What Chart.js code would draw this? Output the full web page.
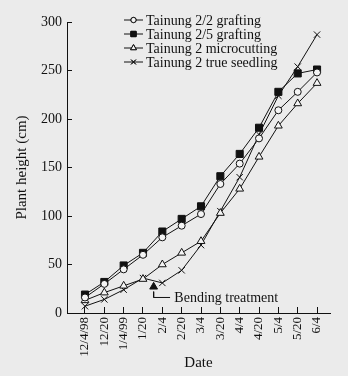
<!DOCTYPE html>
<html>
<head>
<meta charset="utf-8">
<script src="https://cdn.jsdelivr.net/npm/chart.js@4/dist/chart.umd.min.js"></script>
<style>
  html, body { margin: 0; padding: 0; background: #ebebeb; }
  #wrap { width: 348px; height: 376px; position: relative; }
</style>
</head>
<body>
<div id="wrap"><canvas id="c"></canvas></div>
<script>
(function () {
  'use strict';

  // ── Data ──
  var DATES = ['12/4/98', '12/20', '1/4/99', '1/20', '2/4', '2/20', '3/4',
               '3/20', '4/4', '4/20', '5/4', '5/20', '6/4'];
  var GRAFT_22   = [16, 30, 45, 60, 78, 90, 102, 133, 154, 180, 209, 228, 248];
  var GRAFT_25   = [19, 32, 49, 62, 84, 97, 110, 141, 164, 191, 228, 247, 251];
  var MICRO      = [13, 21, 28, 35, 50, 62, 74, 103, 128, 161, 193, 216, 237];
  var SEEDLING   = [7, 14, 24, 36, 31, 44, 70, 105, 140, 184, 224, 254, 287];
  var Y_TICKS    = [0, 50, 100, 150, 200, 250, 300];

  // bending treatment marker + its leader line (data coords)
  var BEND_POINT = [{ x: 3.55, y: 27 }];
  var BEND_LEADER = [{ x: 3.55, y: 22 }, { x: 3.55, y: 16 }, { x: 4.4, y: 16 }];
  var BEND_LABEL = { text: 'Bending treatment', x: 4.62, y: 16 };

  var SERIF = '"Liberation Serif", "DejaVu Serif", serif';
  var INK = '#111';

  function toXY(arr) {
    var out = [];
    for (var i = 0; i < arr.length; i++) out.push({ x: i, y: arr[i] });
    return out;
  }

  function series(label, values, style, radius, fill) {
    return {
      label: label,
      data: toXY(values),
      borderColor: INK,
      borderWidth: 1,
      pointStyle: style,
      pointRadius: radius,
      pointBorderWidth: 1,
      pointBorderColor: INK,
      pointBackgroundColor: fill,
      tension: 0,
      fill: false,
      _legend: true
    };
  }

  var datasets = [
    series('Tainung 2/2 grafting', GRAFT_22, 'circle', 3.5, '#f4f4f4'),
    series('Tainung 2/5 grafting', GRAFT_25, 'rect', 5, INK),
    series('Tainung 2 microcutting', MICRO, 'triangle', 4.5, '#f4f4f4'),
    series('Tainung 2 true seedling', SEEDLING, 'crossRot', 4.5, INK),
    {
      label: 'bend',
      data: BEND_POINT,
      showLine: false,
      pointStyle: 'triangle',
      pointRadius: 4.5,
      pointBorderColor: INK,
      pointBackgroundColor: INK,
      pointBorderWidth: 1
    },
    {
      label: 'leader',
      data: BEND_LEADER,
      borderColor: INK,
      borderWidth: 1,
      pointRadius: 0,
      tension: 0,
      fill: false
    }
  ];

  // ── Custom legend: short line + marker, like the print ──
  var legendPlugin = {
    id: 'printLegend',
    afterDraw: function (chart) {
      var ctx = chart.ctx;
      var x0 = 124, x1 = 143, y = 20, step = 14;
      ctx.save();
      ctx.font = '14px ' + SERIF;
      ctx.textBaseline = 'middle';
      ctx.textAlign = 'left';
      var row = 0;
      chart.data.datasets.forEach(function (ds) {
        if (!ds._legend) return;
        var yy = y + row * step;
        ctx.strokeStyle = INK;
        ctx.lineWidth = 1;
        ctx.beginPath();
        ctx.moveTo(x0, yy);
        ctx.lineTo(x1, yy);
        ctx.stroke();
        Chart.helpers.drawPoint(ctx, {
          pointStyle: ds.pointStyle,
          radius: ds.pointRadius * 0.75,
          rotation: 0,
          borderWidth: 1
        }, (x0 + x1) / 2, yy);
        ctx.fillStyle = ds.pointBackgroundColor;
        ctx.strokeStyle = INK;
        ctx.fill();
        ctx.stroke();
        ctx.fillStyle = INK;
        ctx.fillText(ds.label, x1 + 3, yy + 1);
        row++;
      });
      ctx.restore();
    }
  };

  // ── Annotation text for the bending treatment ──
  var bendPlugin = {
    id: 'bendLabel',
    afterDatasetsDraw: function (chart) {
      var xs = chart.scales.x, ys = chart.scales.y;
      var ctx = chart.ctx;
      ctx.save();
      ctx.font = '14px ' + SERIF;
      ctx.fillStyle = INK;
      ctx.textAlign = 'left';
      ctx.textBaseline = 'middle';
      ctx.fillText(BEND_LABEL.text, xs.getPixelForValue(BEND_LABEL.x), ys.getPixelForValue(BEND_LABEL.y) + 1);
      ctx.restore();
    }
  };

  new Chart(document.getElementById('c'), {
    type: 'line',
    data: { datasets: datasets },
    plugins: [legendPlugin, bendPlugin],
    options: {
      responsive: true,
      maintainAspectRatio: false,
      animation: false,
      layout: { padding: { left: 0, right: 18, top: 22, bottom: 0 } },
      plugins: { legend: { display: false }, tooltip: { enabled: false } },
      scales: {
        x: {
          type: 'linear',
          min: -0.93,
          max: 12.67,
          afterBuildTicks: function (s) {
            s.ticks = DATES.map(function (_, i) { return { value: i }; });
          },
          afterFit: function (s) { s.height = 63; },
          ticks: {
            autoSkip: false,
            minRotation: 90,
            maxRotation: 90,
            padding: 10,
            color: INK,
            font: { family: SERIF, size: 13 },
            callback: function (v) { return DATES[v]; }
          },
          grid: { drawOnChartArea: false, drawTicks: true, tickLength: -6, color: INK },
          border: { color: INK, width: 1 },
          title: {
            display: true,
            text: 'Date',
            color: INK,
            font: { family: SERIF, size: 15 },
            padding: { top: 4, bottom: 4 }
          }
        },
        y: {
          min: 0,
          max: 300,
          afterBuildTicks: function (s) {
            s.ticks = Y_TICKS.map(function (v) { return { value: v }; });
          },
          afterFit: function (s) { s.width = 67; },
          ticks: {
            padding: 10,
            color: INK,
            font: { family: SERIF, size: 14 }
          },
          grid: { drawOnChartArea: false, drawTicks: true, tickLength: -5, color: INK },
          border: { color: INK, width: 1 },
          title: {
            display: true,
            text: 'Plant height (cm)',
            color: INK,
            font: { family: SERIF, size: 15 },
            padding: { top: 13, bottom: 13 }
          }
        }
      }
    }
  });
})();
</script>
</body>
</html>
